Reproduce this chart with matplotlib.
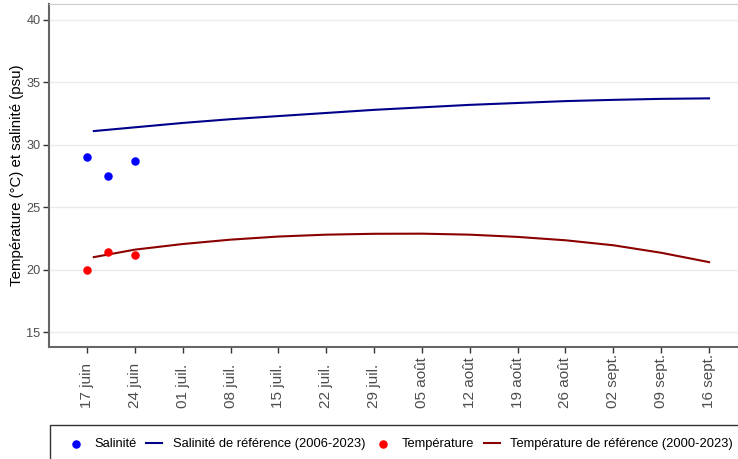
import pandas as pd
import matplotlib.pyplot as plt
import matplotlib.dates as mdates
from matplotlib.patches import Rectangle
import numpy as np

plt.rcParams['font.family'] = ['Liberation Sans', 'DejaVu Sans']

# mesures
obs_dates = pd.to_datetime(['2024-06-17', '2024-06-20', '2024-06-24'])
salinite = [29.0, 27.5, 28.7]
temperature = [20.0, 21.4, 21.2]

# références (une valeur par semaine)
ref_dates = pd.to_datetime(['2024-06-18', '2024-06-24', '2024-07-01', '2024-07-08',
                            '2024-07-15', '2024-07-22', '2024-07-29', '2024-08-05',
                            '2024-08-12', '2024-08-19', '2024-08-26', '2024-09-02',
                            '2024-09-09', '2024-09-16'])
sal_ref = [31.1, 31.4, 31.75, 32.05, 32.3, 32.55, 32.8, 33.0,
           33.2, 33.35, 33.5, 33.6, 33.68, 33.72]
temp_ref = [21.0, 21.6, 22.05, 22.4, 22.65, 22.8, 22.87, 22.88,
            22.8, 22.62, 22.35, 21.95, 21.35, 20.6]

mois = {6: 'juin', 7: 'juil.', 8: 'août', 9: 'sept.'}
tick_dates = pd.date_range('2024-06-17', '2024-09-16', freq='7D')
tick_labels = ['%02d %s' % (d.day, mois[d.month]) for d in tick_dates]

W, H = 738, 459
fig = plt.figure(figsize=(W/100, H/100), dpi=100)
ax = fig.add_axes([49/W, 1-347/H, 700/W, 343/H])

ax.plot(ref_dates, sal_ref, color='#00008b', lw=1.5, label='Salinité de référence (2006-2023)', zorder=3)
ax.plot(ref_dates, temp_ref, color='#8b0000', lw=1.5, label='Température de référence (2000-2023)', zorder=3)
ax.scatter(obs_dates, salinite, color='#0000ff', s=26, label='Salinité', zorder=4)
ax.scatter(obs_dates, temperature, color='#ff0000', s=26, label='Température', zorder=4)

x0 = mdates.date2num(pd.Timestamp('2024-06-17'))
ax.set_xlim(x0 - 5.56, x0 + 91 + 5.85)
ax.set_ylim(13.8, 41.28)
ax.set_yticks([15, 20, 25, 30, 35, 40])
ax.set_xticks(tick_dates)
ax.set_xticklabels(tick_labels, rotation=90, va='bottom')

ax.grid(axis='y', color='#ebebeb', lw=1)
ax.set_axisbelow(True)
for s in ['left', 'bottom']:
    ax.spines[s].set_color('#666666')
    ax.spines[s].set_linewidth(1.5)
ax.spines['top'].set_color('#cccccc')
ax.spines['right'].set_visible(False)
ax.tick_params(axis='both', colors='#333333', labelcolor='#4d4d4d', length=4, width=1)
ax.tick_params(axis='y', labelsize=9.2, pad=2)
ax.tick_params(axis='x', labelsize=11, pad=40)
ax.set_ylabel('Température (°C) et salinité (psu)', fontsize=10.8, labelpad=2)

# cadre de la légende
fig.patches.append(Rectangle((50/W, 1-470/H), 700/W, 45/H, transform=fig.transFigure,
                             fill=False, edgecolor='#333333', lw=1.0))

h, l = ax.get_legend_handles_labels()
order = [2, 0, 3, 1]
leg = fig.legend([h[i] for i in order], [l[i] for i in order], loc='upper left',
                 bbox_to_anchor=(68/W, 1-438/H), ncol=4, fontsize=9.3, frameon=False,
                 handlelength=1.24, columnspacing=0.78, handletextpad=0.78,
                 borderpad=0, borderaxespad=0)

fig.savefig('out.png', dpi=100)
